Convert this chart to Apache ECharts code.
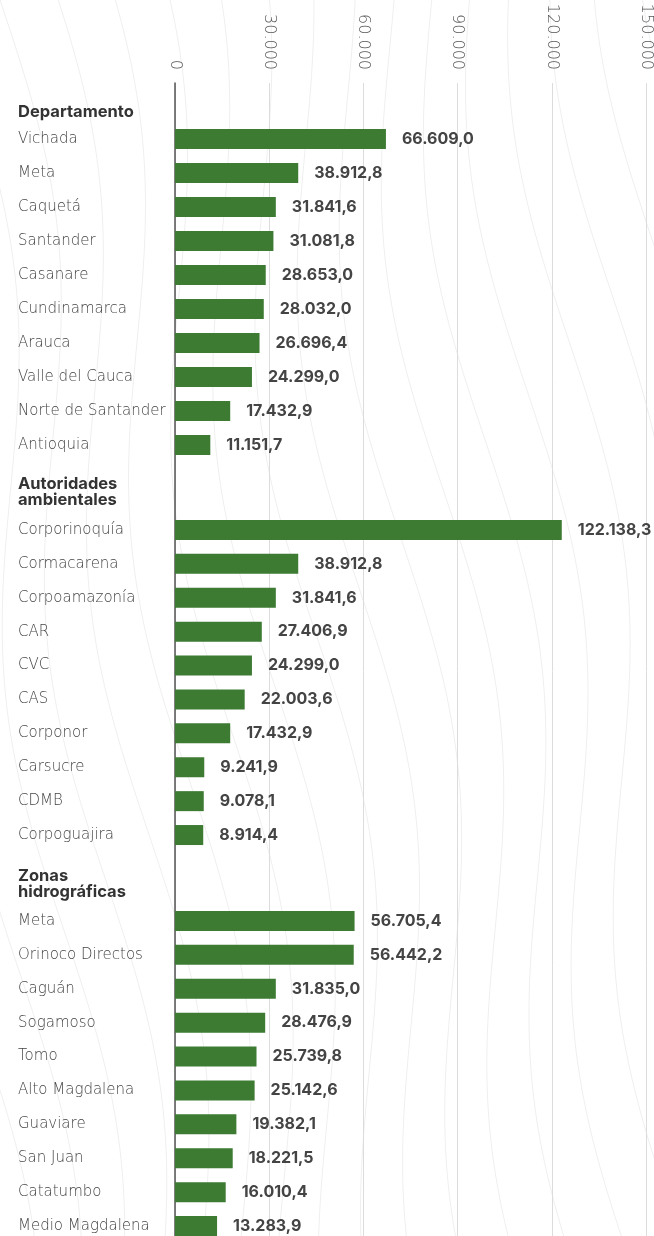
<!DOCTYPE html>
<html><head><meta charset="utf-8">
<script src="https://cdn.jsdelivr.net/npm/echarts@6/dist/echarts.min.js"></script>
<style>html,body{margin:0;padding:0;background:#fff;overflow:hidden}#c{width:654px;height:1260px}</style>
</head><body><div id="c"></div>
<script>
var tickValues = [0, 30000, 60000, 90000, 120000, 150000];
var groupTitles = ['Departamento', 'Autoridades\nambientales', 'Zonas\nhidrográficas'];
var deptNames = ['Vichada','Meta','Caquetá','Santander','Casanare','Cundinamarca','Arauca','Valle del Cauca','Norte de Santander','Antioquia'];
var deptValues = [66609.0,38912.8,31841.6,31081.8,28653.0,28032.0,26696.4,24299.0,17432.9,11151.7];
var autNames = ['Corporinoquía','Cormacarena','Corpoamazonía','CAR','CVC','CAS','Corponor','Carsucre','CDMB','Corpoguajira'];
var autValues = [122138.3,38912.8,31841.6,27406.9,24299.0,22003.6,17432.9,9241.9,9078.1,8914.4];
var zonaNames = ['Meta','Orinoco Directos','Caguán','Sogamoso','Tomo','Alto Magdalena','Guaviare','San Juan','Catatumbo','Medio Magdalena'];
var zonaValues = [56705.4,56442.2,31835.0,28476.9,25739.8,25142.6,19382.1,18221.5,16010.4,13283.9];

function fmtInt(v){ return String(Math.round(v)).replace(/\B(?=(\d{3})+(?!\d))/g,'.'); }
function fmtDec(v){ var p=v.toFixed(1).split('.'); return p[0].replace(/\B(?=(\d{3})+(?!\d))/g,'.')+','+p[1]; }

var LIGHT_FONT = '"DejaVu Sans", sans-serif';
var BOLD_FONT = 'Inter, sans-serif';
var GREEN = '#3d7a32';

var chart = echarts.init(document.getElementById('c'), null, {renderer:'canvas'});

// decorative wavy background
var bg = [];
for (var k = -6; k < 20; k++) {
  var pts = [];
  for (var y = -20; y <= 1276; y += 8) {
    var x = k*48 + 30*Math.sin(y/140 + k*0.35) + y*0.12;
    pts.push([x, y]);
  }
  bg.push({type:'polyline', silent:true, z:-10, shape:{points:pts, smooth:0.3}, style:{stroke:'#efefef', lineWidth:1, fill:null}});
}

var grids = [
  {left:175, right:4, top:83, bottom:0},
  {left:175, right:4, top:122, height:340},
  {left:175, right:4, top:513, height:339},
  {left:175, right:4, top:904, height:339}
];
var xAxes = [{
  gridIndex:0, type:'value', position:'top', min:tickValues[0], max:tickValues[tickValues.length-1], interval:tickValues[1]-tickValues[0],
  axisLine:{show:false}, axisTick:{show:false},
  splitLine:{show:true, lineStyle:{color:'#dcdcdc', width:1}},
  axisLabel:{rotate:-90, margin:13, color:'#555', fontSize:16, fontFamily:LIGHT_FONT, fontWeight:300, formatter:function(v){return fmtInt(v);}}
}];
var yAxes = [{
  gridIndex:0, type:'value', min:0, max:1, axisLabel:{show:false}, axisTick:{show:false}, splitLine:{show:false},
  axisLine:{show:true, lineStyle:{color:'#555', width:1.5}}
}];
var series = [{type:'scatter', xAxisIndex:0, yAxisIndex:0, data:[], silent:true}];
var groups = [[deptNames, deptValues],[autNames, autValues],[zonaNames, zonaValues]];
groups.forEach(function(g, i){
  var gi = i+1;
  xAxes.push({gridIndex:gi, type:'value', min:tickValues[0], max:tickValues[tickValues.length-1], show:false});
  yAxes.push({gridIndex:gi, type:'category', inverse:true, data:g[0],
    axisLine:{show:false}, axisTick:{show:false}, splitLine:{show:false},
    axisLabel:{align:'left', margin:157, color:'#444', fontSize:15, fontFamily:LIGHT_FONT, fontWeight:300}});
  series.push({type:'bar', xAxisIndex:gi, yAxisIndex:gi, data:g[1], barWidth:20,
    itemStyle:{color:GREEN},
    label:{show:true, position:'right', distance:16, color:'#444', fontSize:16, fontWeight:'bold', fontFamily:BOLD_FONT,
      formatter:function(p){return fmtDec(p.value);}}});
});

var headerY = [104, 476, 868];
var headers = groupTitles.map(function(t, i){
  return {type:'text', left:18, top:headerY[i], z:10,
    style:{text:t, fill:'#333', font:'bold 16.5px Inter, sans-serif', lineHeight:16}};
});

chart.setOption({
  animation:false,
  grid:grids, xAxis:xAxes, yAxis:yAxes, series:series,
  graphic:bg.concat(headers)
});
</script></body></html>
